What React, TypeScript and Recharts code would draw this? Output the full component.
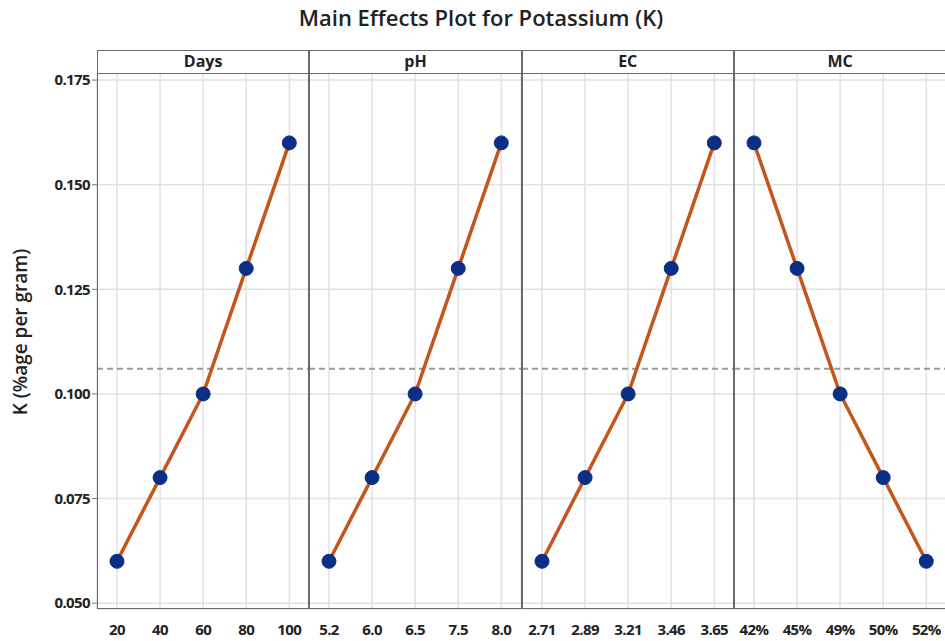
import { LineChart, Line, XAxis, YAxis, CartesianGrid, ReferenceLine } from 'recharts'

// factor levels
const daysLevels = ['20', '40', '60', '80', '100']
const phLevels = ['5.2', '6.0', '6.5', '7.5', '8.0']
const ecLevels = ['2.71', '2.89', '3.21', '3.46', '3.65']
const mcLevels = ['42%', '45%', '49%', '50%', '52%']

// mean K per level
const daysMeans = [0.06, 0.08, 0.1, 0.13, 0.16]
const phMeans = [0.06, 0.08, 0.1, 0.13, 0.16]
const ecMeans = [0.06, 0.08, 0.1, 0.13, 0.16]
const mcMeans = [0.16, 0.13, 0.1, 0.08, 0.06]

const yTicks = [0.05, 0.075, 0.1, 0.125, 0.15, 0.175]
const grandMean = 0.106

const panels = [
  { name: 'Days', levels: daysLevels, means: daysMeans },
  { name: 'pH', levels: phLevels, means: phMeans },
  { name: 'EC', levels: ecLevels, means: ecMeans },
  { name: 'MC', levels: mcLevels, means: mcMeans },
]

const FONT = '"Open Sans", "Noto Sans", sans-serif'
const PLOT_LEFT = 97
const PANEL_W = 212.3
const PLOT_TOP = 73
const PLOT_BOTTOM = 609
const STRIP_TOP = 50
const H = 641

const tickStyle = { fill: '#222', fontSize: 15, fontWeight: 700, fontFamily: FONT, letterSpacing: -0.6 }

export default function App() {
  return (
    <div style={{ position: 'absolute', left: 0, top: 0, width: 945, height: H, overflow: 'hidden', background: '#fff', fontFamily: FONT }}>
      <div style={{ position: 'absolute', left: 0, top: 2, width: 962, textAlign: 'center', fontSize: 22, fontWeight: 600, color: '#222' }}>
        Main Effects Plot for Potassium (K)
      </div>

      {panels.map((p, i) => {
        const first = i === 0
        const data = p.levels.map((lv, j) => ({ level: lv, mean: p.means[j] }))
        const left = first ? 0 : PLOT_LEFT + i * PANEL_W
        const width = first ? PLOT_LEFT + PANEL_W : PANEL_W
        return (
          <div key={p.name} style={{ position: 'absolute', left, top: 0 }}>
            <LineChart width={width} height={H} data={data} margin={{ top: PLOT_TOP, right: 0, bottom: 0, left: 0 }}>
              <CartesianGrid stroke="#e2e2e2" strokeWidth={1.5} />
              <XAxis
                dataKey="level"
                height={H - PLOT_BOTTOM}
                padding={{ left: 20, right: 20 }}
                axisLine={false}
                tickLine={false}
                interval={0}
                tick={tickStyle}
                dy={7}
              />
              <YAxis
                hide={!first}
                width={first ? PLOT_LEFT : 0}
                type="number"
                domain={[0.0486, 0.1767]}
                allowDataOverflow
                ticks={yTicks}
                tickFormatter={(v: number) => v.toFixed(3)}
                axisLine={false}
                tickLine={{ stroke: '#777' }}
                tickSize={5}
                tick={tickStyle}
                label={{
                  value: 'K (%age per gram)',
                  angle: -90,
                  position: 'insideLeft',
                  dx: 15,
                  dy: -9,
                  style: { textAnchor: 'middle', fontSize: 19, fontWeight: 600, fill: '#222', fontFamily: FONT },
                }}
              />
              <ReferenceLine y={grandMean} stroke="#9a9a9a" strokeWidth={2} strokeDasharray="6 4" />
              <Line
                dataKey="mean"
                stroke="#c4561c"
                strokeWidth={3.5}
                dot={{ r: 7, fill: '#0b2f84', stroke: '#0b2f84', strokeWidth: 1 }}
                isAnimationActive={false}
              />
            </LineChart>
          </div>
        )
      })}

      {panels.map((p, i) => (
        <div
          key={'frame-' + p.name}
          style={{
            position: 'absolute',
            left: PLOT_LEFT + i * PANEL_W,
            top: STRIP_TOP,
            width: PANEL_W,
            height: PLOT_BOTTOM - STRIP_TOP,
            boxSizing: 'border-box',
            border: '1.5px solid #6a6a6a',
            pointerEvents: 'none',
          }}
        >
          <div
            style={{
              height: PLOT_TOP - STRIP_TOP,
              boxSizing: 'border-box',
              borderBottom: '1.5px solid #6a6a6a',
              textAlign: 'center',
              fontSize: 16,
              fontWeight: 700,
              color: '#222',
              lineHeight: '21px',
              background: '#fff',
            }}
          >
            {p.name}
          </div>
        </div>
      ))}
    </div>
  )
}
